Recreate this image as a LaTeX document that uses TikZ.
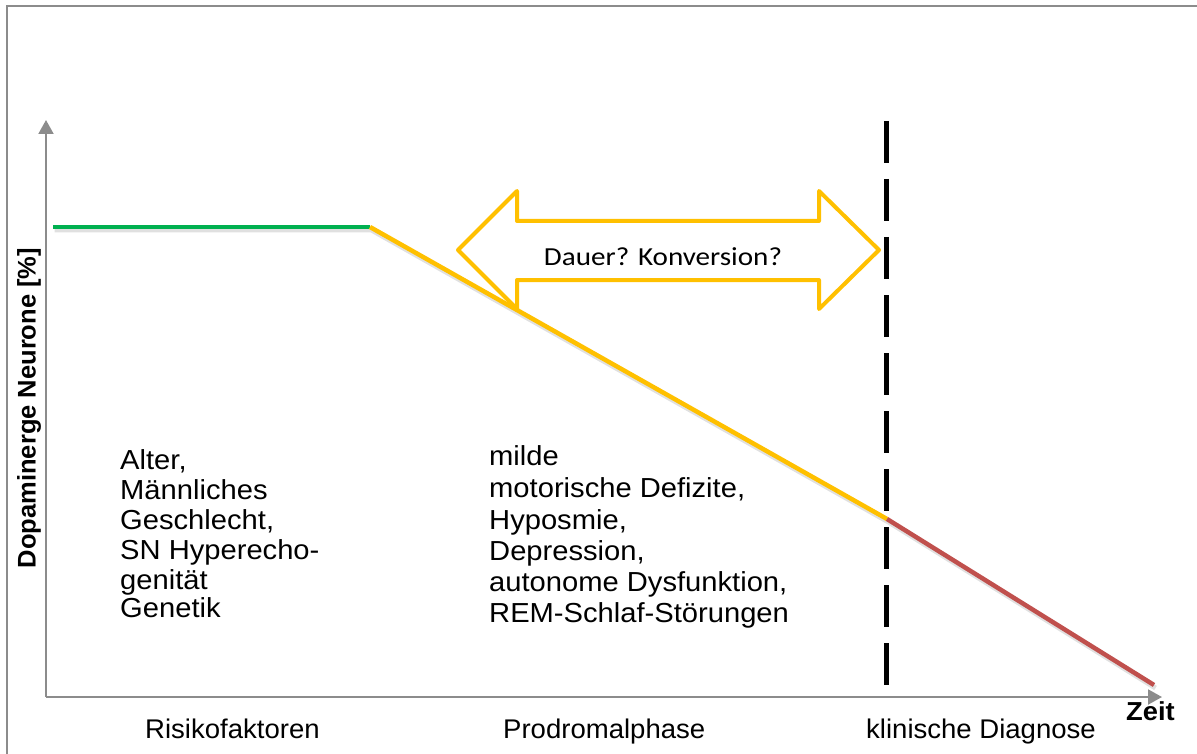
\documentclass[tikz,border=0pt]{standalone}
\usepackage{fontspec}
\setmainfont{Liberation Sans}
\newfontfamily\listfont[FakeStretch=1.06]{Liberation Sans}
\newfontfamily\phasefont[FakeStretch=1.02]{Liberation Sans}
\newfontfamily\boldfont[FakeStretch=1.05]{Liberation Sans}
\newfontfamily\calib[FakeStretch=1.12]{Carlito}
\usetikzlibrary{arrows.meta}
\definecolor{pgreen}{HTML}{00B050}
\definecolor{pyellow}{HTML}{FFC000}
\definecolor{pred}{HTML}{C0504D}
\definecolor{paxis}{HTML}{8C8C8C}
\tikzset{
  axisline/.style={draw=paxis, line width=2pt, -{Triangle[width=15pt,length=14pt]}},
  curve/.style={line width=4.5pt},
  curveshadow/.style={line width=5pt, draw=black, opacity=0.12, transform canvas={shift={(1.5pt,-3pt)}}},
  listtext/.style={anchor=base west, inner sep=0pt, font=\listfont\fontsize{27.5}{31}\selectfont},
  phaselabel/.style={anchor=base west, inner sep=0pt, font=\phasefont\fontsize{27}{31}\selectfont},
  boldlabel/.style={inner sep=0pt, font=\boldfont\fontsize{26}{30}\selectfont\bfseries},
}
\begin{document}
\begin{tikzpicture}[x=1pt, y=-1pt]
\useasboundingbox (0,0) rectangle (1197,754);
% frame (left and top)
\draw[paxis, line width=2pt] (7,754) -- (7,6) -- (1197,6);
% axes
\coordinate (O) at (46,697);
\coordinate (ytip) at (46,120);
\coordinate (xtip) at (1162,697);
\draw[axisline] (O) -- (ytip);
\draw[axisline] (O) -- (xtip);
% curve
\coordinate (g0) at (53,227);
\coordinate (k1) at (370,227);
\coordinate (k2) at (887,519);
\coordinate (r1) at (1154,685);
\draw[curveshadow] (g0) -- (k1) -- (k2) -- (r1);
\draw[curve, pgreen] (g0) -- (k1);
\draw[curve, pyellow] (k1) -- (k2);
\draw[curve, pred] (k2) -- (r1);
% dashed diagnosis line
\coordinate (d0) at (886,121);
\coordinate (d1) at (886,690);
\draw[black, line width=5pt, dash pattern=on 42pt off 16pt] (d0) -- (d1);
% double arrow
\draw[pyellow, line width=4pt, line join=round, fill=white]
  (458,250) -- (517,191) -- (517,221) -- (819,221) -- (819,191) -- (879,250)
  -- (819,309) -- (819,280) -- (517,280) -- (517,309) -- cycle;
\node[inner sep=0pt, font=\calib\fontsize{26}{30}\selectfont] (dauer) at (663,257) {Dauer? Konversion?};
% y label
\node[inner sep=0pt, rotate=90, font=\fontsize{25.5}{30}\selectfont\bfseries] (ylab) at (29,408) {Dopaminerge Neurone [\%]};
\node[boldlabel, anchor=base west] (zeit) at (1126,720) {Zeit};
% risk factors
\node[listtext] (l1) at (120,469) {Alter,};
\node[listtext] (l2) at (120,499) {Männliches};
\node[listtext] (l3) at (120,529) {Geschlecht,};
\node[listtext] (l4) at (120,559) {SN Hyperecho-};
\node[listtext] (l5) at (120,589) {genität};
\node[listtext] (l6) at (120,617) {Genetik};
% prodromal symptoms
\node[listtext] (m1) at (489,465) {milde};
\node[listtext] (m2) at (489,497) {motorische Defizite,};
\node[listtext] (m3) at (489,529) {Hyposmie,};
\node[listtext] (m4) at (489,560) {Depression,};
\node[listtext] (m5) at (489,591) {autonome Dysfunktion,};
\node[listtext] (m6) at (489,622) {REM-Schlaf-Störungen};
% phase labels
\node[phaselabel] (p1) at (145,738) {Risikofaktoren};
\node[phaselabel] (p2) at (503,738) {Prodromalphase};
\node[phaselabel] (p3) at (866,738) {klinische Diagnose};
\end{tikzpicture}
\end{document}
